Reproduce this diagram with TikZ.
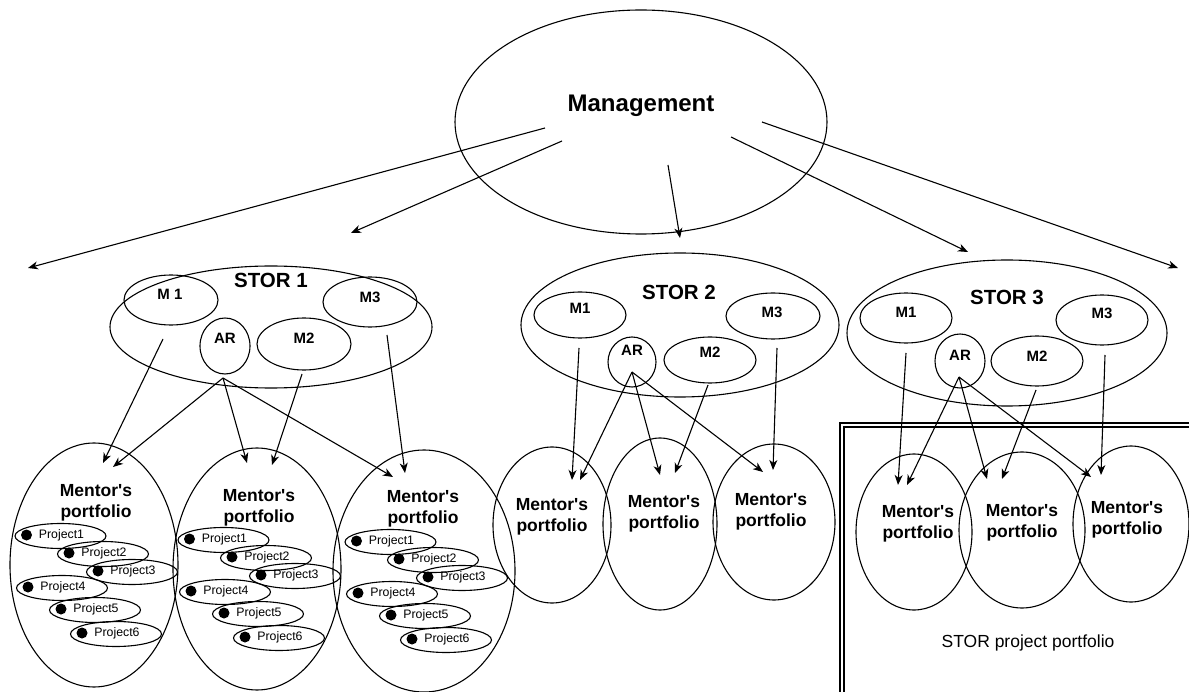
\documentclass[tikz,border=0pt]{standalone}
\usepackage{fontspec}
\setmainfont{Liberation Sans}
\usetikzlibrary{shapes.geometric,arrows.meta,calc}
\begin{document}
\begin{tikzpicture}[x=1pt,y=-1pt,
  oval/.style={draw,ellipse,inner sep=0pt,outer sep=0pt,line width=1.1pt},
  sz/.style 2 args={minimum width=#1pt,minimum height=#2pt},
  arr/.style={-{Stealth[length=10pt,width=8pt,inset=3pt]},line width=1.1pt},
  bigt/.style={font=\fontsize{24}{28}\selectfont\bfseries,inner sep=0pt},
  stort/.style={font=\fontsize{20.5}{24}\selectfont\bfseries,inner sep=0pt},
  mt/.style={font=\fontsize{15}{18}\selectfont\bfseries,inner sep=0pt},
  mpt/.style={font=\fontsize{17.5}{21}\selectfont\bfseries,inner sep=0pt,align=center},
  projt/.style={font=\fontsize{12.3}{14}\selectfont,inner sep=0pt},
  dot/.style={circle,fill=black,inner sep=0pt,minimum size=11pt},
  projsh/.style={oval,sz={91}{25}}
]
\useasboundingbox (0,0) rectangle (1189,692);
\newcommand\mport{Mentor\textquotesingle s\\portfolio}

% ---------- Management ----------
\node[oval,sz={372}{224}] (mgmt) at (641,122) {};
\node[bigt] (mgmtT) at (641,106) {Management};

% ---------- STOR 1 ----------
\node[oval,sz={322}{122}] (s1) at (271,327) {};
\node[stort] (s1T) at (271,280) {STOR 1};
\node[oval,sz={94}{50}] (s1m1) at (171,300) {};
\node[mt] (s1m1T) at (170,294) {M 1};
\node[oval,sz={50}{56}] (s1ar) at (225,346) {};
\node[mt] (s1arT) at (225,338) {AR};
\node[oval,sz={94}{52}] (s1m2) at (304,344) {};
\node[mt] (s1m2T) at (304,338) {M2};
\node[oval,sz={94}{50}] (s1m3) at (370,302) {};
\node[mt] (s1m3T) at (370,297) {M3};

\node[oval,sz={168}{244}] (mp11) at (94,565) {};
\node[mpt] (mp11T) at (96,503) {\mport};
\node[oval,sz={168}{242}] (mp12) at (257,569) {};
\node[mpt] (mp12T) at (259,508) {\mport};
\node[oval,sz={182}{242}] (mp13) at (424,571) {};
\node[mpt] (mp13T) at (423,509) {\mport};

\foreach \m in {mp11,mp12,mp13}{
  \begin{scope}[shift={(\m.center)}]
    \foreach \dx/\dy/\n in {-33.5/-29/1, 9/-11/2, 38/7/3, -32/23/4, 1/45/5, 22/69/6}{
      \node[projsh] (\m p\n) at (\dx,\dy) {};
      \node[dot] (\m d\n) at (\dx-34,\dy-1) {};
      \node[projt] (\m t\n) at (\dx+1,\dy-1) {Project\n};
    }
  \end{scope}
}

% ---------- STOR 2 ----------
\node[oval,sz={318}{144}] (s2) at (680,325) {};
\node[stort] (s2T) at (679,292) {STOR 2};
\node[oval,sz={92}{46}] (s2m1) at (580,315) {};
\node[mt] (s2m1T) at (580,308) {M1};
\node[oval,sz={48}{50}] (s2ar) at (632,362) {};
\node[mt] (s2arT) at (632,350) {AR};
\node[oval,sz={92}{46}] (s2m2) at (710,360) {};
\node[mt] (s2m2T) at (710,352) {M2};
\node[oval,sz={94}{46}] (s2m3) at (773,316) {};
\node[mt] (s2m3T) at (772,312) {M3};

\node[oval,sz={118}{156}] (mp21) at (552,525) {};
\node[mpt] (mp21T) at (552,517) {\mport};
\node[oval,sz={114}{172}] (mp22) at (660,524) {};
\node[mpt] (mp22T) at (664,514) {\mport};
\node[oval,sz={122}{156}] (mp23) at (774,522) {};
\node[mpt] (mp23T) at (771,512) {\mport};

% ---------- STOR 3 ----------
\node[oval,sz={320}{146}] (s3) at (1007,333) {};
\node[stort] (s3T) at (1007,297) {STOR 3};
\node[oval,sz={92}{50}] (s3m1) at (906,318) {};
\node[mt] (s3m1T) at (906,312) {M1};
\node[oval,sz={50}{54}] (s3ar) at (960,361) {};
\node[mt] (s3arT) at (960,355) {AR};
\node[oval,sz={92}{50}] (s3m2) at (1037,361) {};
\node[mt] (s3m2T) at (1037,356) {M2};
\node[oval,sz={92}{50}] (s3m3) at (1102,320) {};
\node[mt] (s3m3T) at (1102,313) {M3};

\node[oval,sz={116}{156}] (mp31) at (914,532) {};
\node[mpt] (mp31T) at (918,524) {\mport};
\node[oval,sz={126}{156}] (mp32) at (1022,530) {};
\node[mpt] (mp32T) at (1022,523) {\mport};
\node[oval,sz={116}{156}] (mp33) at (1131,524) {};
\node[mpt] (mp33T) at (1127,520) {\mport};

% ---------- portfolio box ----------
\coordinate (boxbl) at (842,700);
\coordinate (boxtl) at (842,425);
\coordinate (boxtr) at (1195,425);
\draw[double,double distance=2pt,line width=1.6pt] (boxbl) -- (boxtl) -- (boxtr);
\node[font=\fontsize{17.5}{21}\selectfont,inner sep=0pt] (portT) at (1028,643) {STOR project portfolio};

% ---------- arrows from management ----------
\coordinate (ma1) at (545,128);  \coordinate (ea1) at (28,268);
\coordinate (ma2) at (562,141);  \coordinate (ea2) at (351,233);
\coordinate (ma3) at (668,165);  \coordinate (ea3) at (680,238);
\coordinate (ma4) at (731,137);  \coordinate (ea4) at (968,252);
\coordinate (ma5) at (762,122);  \coordinate (ea5) at (1178,268);
\foreach \i in {1,...,5}{\draw[arr] (ma\i) -- (ea\i);}

% ---------- STOR 1 arrows ----------
\coordinate (s1m1o) at (163,339);
\coordinate (s1aro) at (223,378);
\coordinate (s1m2o) at (302,374);
\coordinate (s1m3o) at (387,335);
\coordinate (mp11a) at (103,463);
\coordinate (mp11b) at (113,467);
\coordinate (mp12a) at (247,463);
\coordinate (mp12b) at (272,465);
\coordinate (mp13a) at (393,477);
\coordinate (mp13b) at (405,473);
\draw[arr] (s1m1o) -- (mp11a);
\draw[arr] (s1aro) -- (mp11b);
\draw[arr] (s1aro) -- (mp12a);
\draw[arr] (s1aro) -- (mp13a);
\draw[arr] (s1m2o) -- (mp12b);
\draw[arr] (s1m3o) -- (mp13b);

% ---------- STOR 2 arrows ----------
\coordinate (s2m1o) at (579,348);
\coordinate (s2aro) at (632,372);
\coordinate (s2m2o) at (708,385);
\coordinate (s2m3o) at (777,348);
\coordinate (mp21a) at (572,480);
\coordinate (mp21b) at (580,480);
\coordinate (mp22a) at (660,475);
\coordinate (mp22b) at (675,473);
\coordinate (mp23a) at (763,472);
\coordinate (mp23b) at (773,470);
\draw[arr] (s2m1o) -- (mp21a);
\draw[arr] (s2aro) -- (mp21b);
\draw[arr] (s2aro) -- (mp22a);
\draw[arr] (s2aro) -- (mp23a);
\draw[arr] (s2m2o) -- (mp22b);
\draw[arr] (s2m3o) -- (mp23b);

% ---------- STOR 3 arrows ----------
\coordinate (s3m1o) at (906,353);
\coordinate (s3aro) at (959,377);
\coordinate (s3m2o) at (1036,390);
\coordinate (s3m3o) at (1105,355);
\coordinate (mp31a) at (898,485);
\coordinate (mp31b) at (907,485);
\coordinate (mp32a) at (987,479);
\coordinate (mp32b) at (1002,479);
\coordinate (mp33a) at (1091,477);
\coordinate (mp33b) at (1101,475);
\draw[arr] (s3m1o) -- (mp31a);
\draw[arr] (s3aro) -- (mp31b);
\draw[arr] (s3aro) -- (mp32a);
\draw[arr] (s3aro) -- (mp33a);
\draw[arr] (s3m2o) -- (mp32b);
\draw[arr] (s3m3o) -- (mp33b);
\end{tikzpicture}
\end{document}
